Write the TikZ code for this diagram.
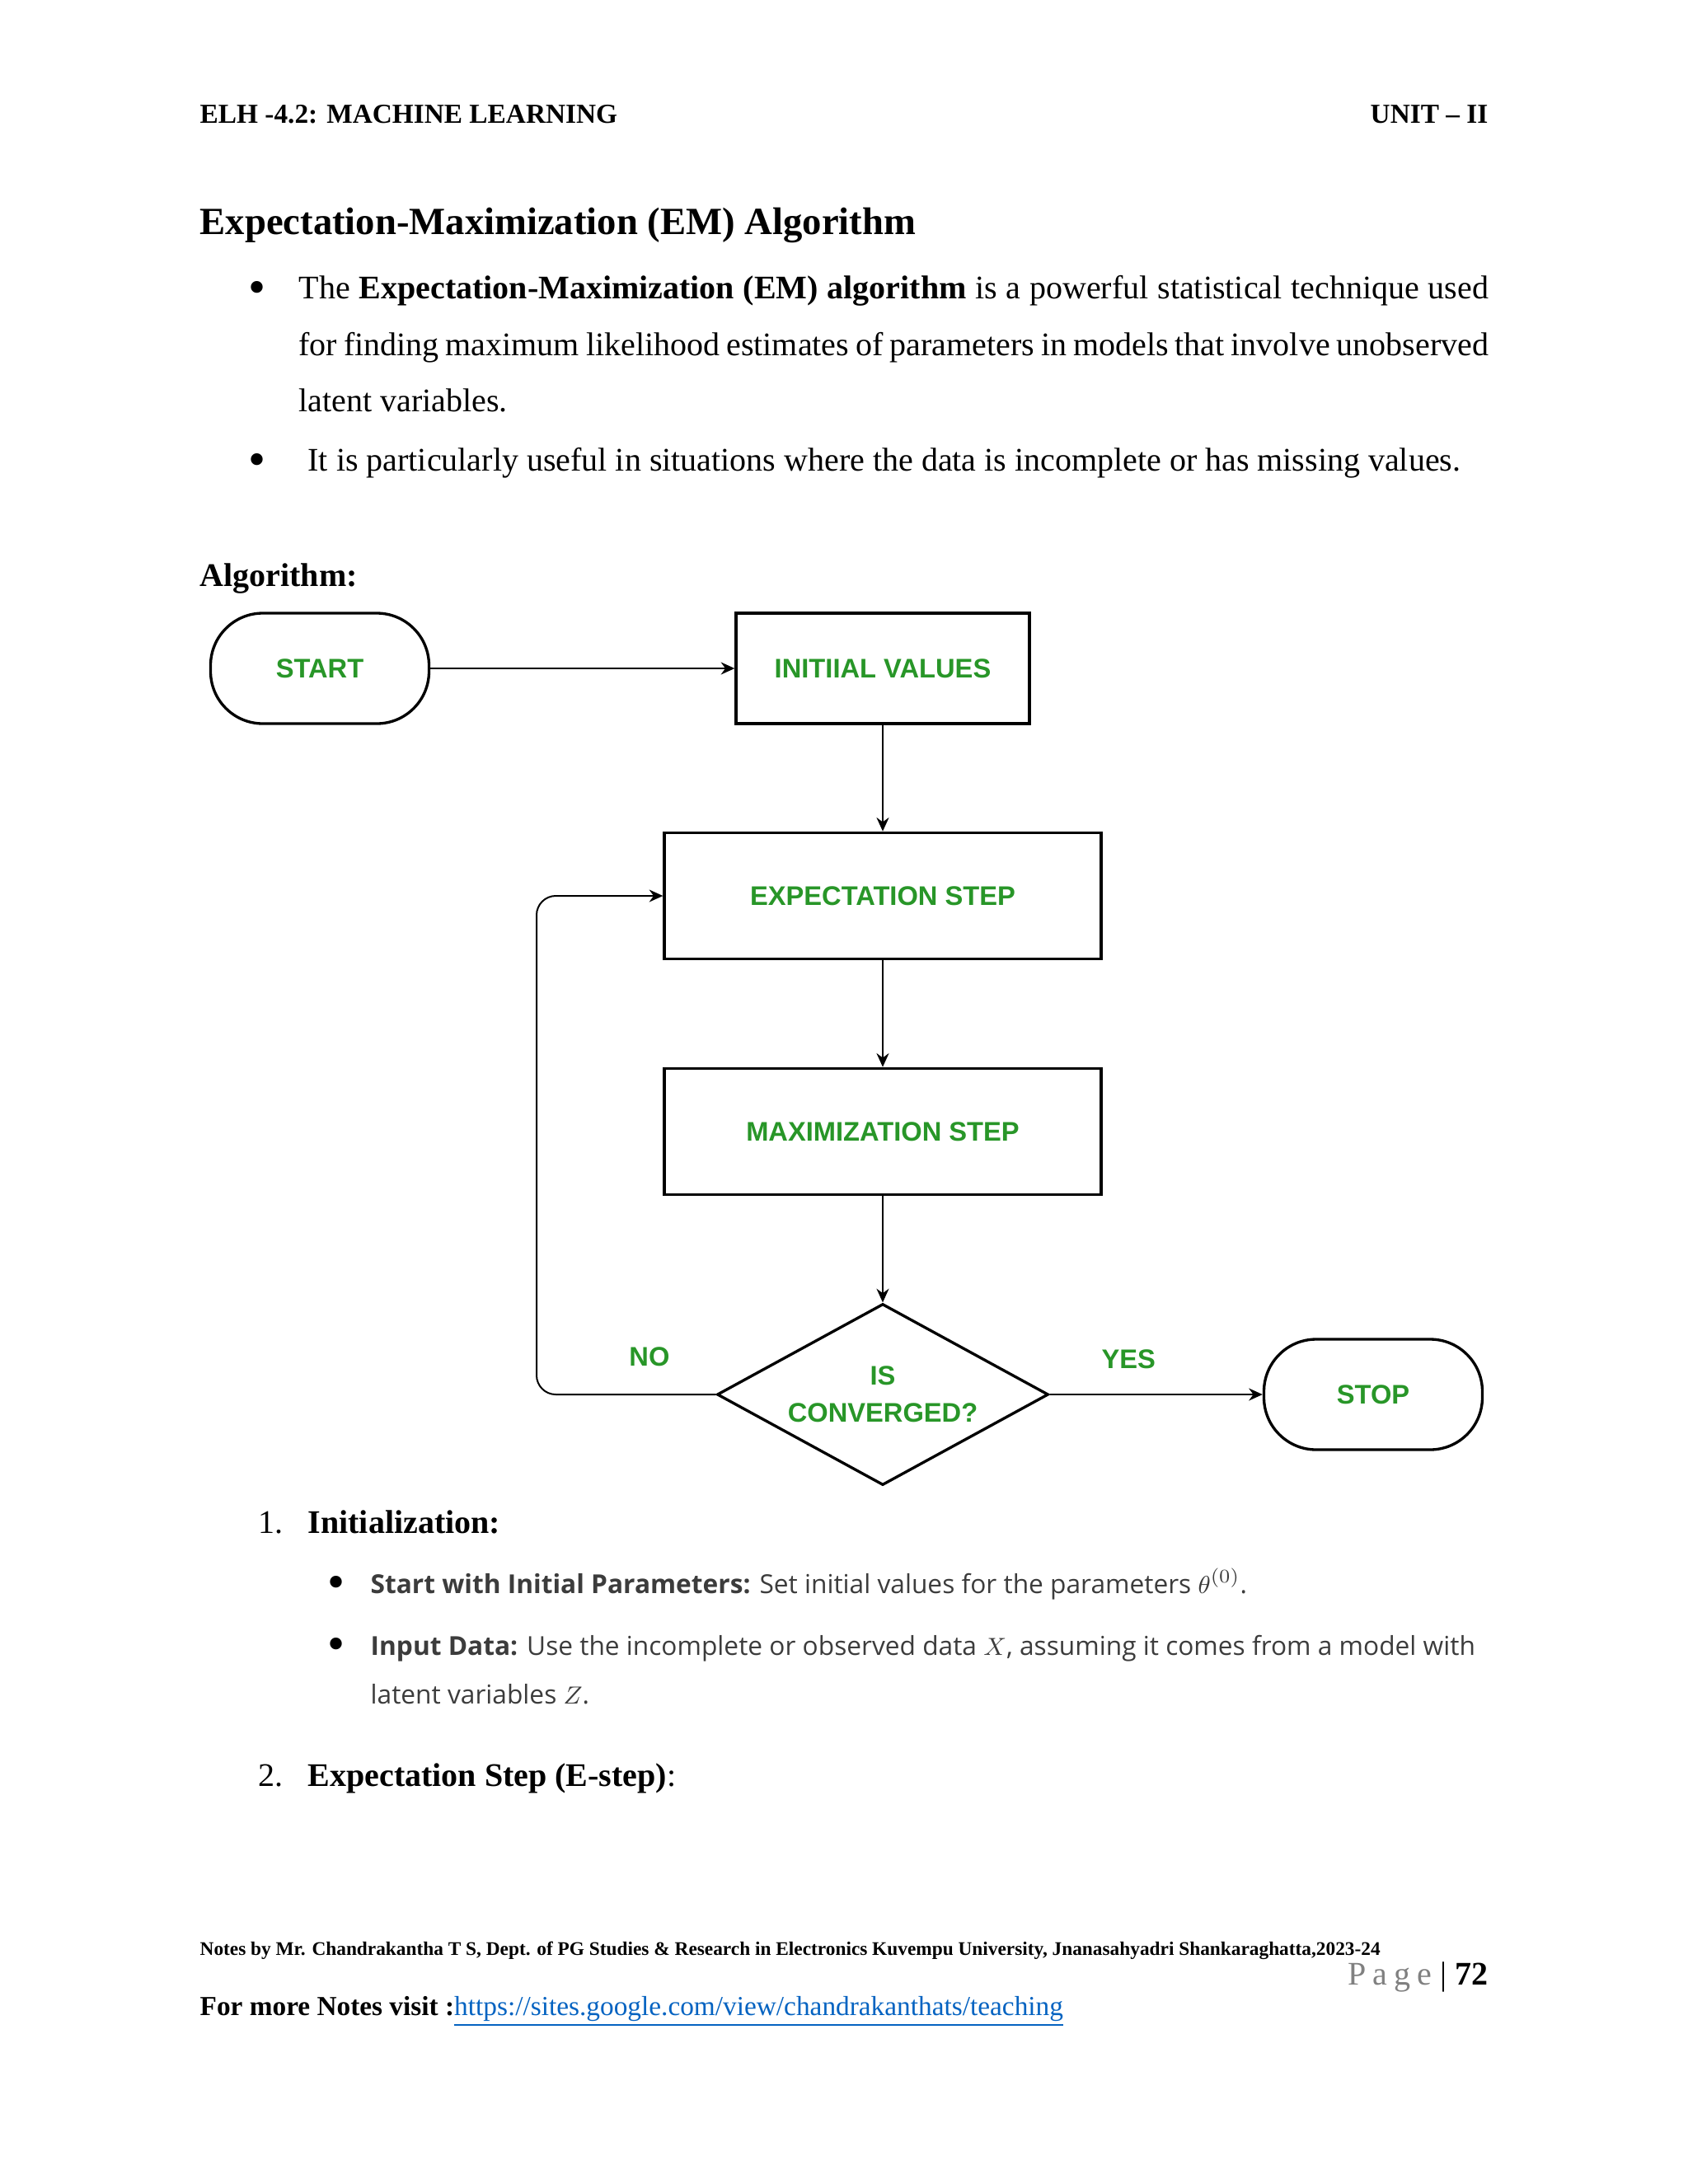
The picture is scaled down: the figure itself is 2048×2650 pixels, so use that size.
\documentclass[tikz,border=0pt]{standalone}
\usepackage{fontspec}
\setmainfont{Liberation Serif}
\newfontfamily\flowfont{Liberation Sans}
\newfontfamily\notefont{Open Sans}
\usepackage{tikz}
\usetikzlibrary{positioning,calc,arrows.meta,shapes.geometric}
\usepackage{xcolor}
\definecolor{flowgreen}{RGB}{40,150,40}
\definecolor{linkblue}{RGB}{5,99,193}
\definecolor{notegray}{RGB}{60,60,60}
\definecolor{pagegray}{RGB}{128,128,128}
\newcommand{\bigdot}{\raisebox{-2pt}{\scalebox{1.5}{\textbullet}}}

\tikzset{
  flowbox/.style={draw,line width=1pt,minimum width=159pt,minimum height=46pt,
    inner sep=0pt,text=flowgreen,
    font=\flowfont\fontsize{9.8}{11.4}\selectfont\bfseries},
  termbox/.style={flowbox,rounded corners=19pt,minimum width=79.5pt,minimum height=40.2pt},
  decbox/.style={flowbox,diamond,aspect=1.83,minimum width=120.6pt,
    minimum height=66pt,align=center},
  flowline/.style={line width=0.6pt,-{Stealth[length=5pt,width=4.5pt]}},
  lbl/.style={text=flowgreen,font=\flowfont\fontsize{9.8}{11.4}\selectfont\bfseries,inner sep=0pt},
  txt/.style={anchor=base west,inner sep=0pt,font=\fontsize{12}{14}\selectfont},
  note/.style={anchor=base west,inner sep=0pt,text=notegray,
    font=\notefont\fontsize{9.5}{11}\selectfont},
}

\begin{document}
\begin{tikzpicture}[x=0.3pt,y=-0.3pt]
  \useasboundingbox[fill=white] (0,0) rectangle (2048,2650);
  % page head
  \node[txt,font=\fontsize{10}{12}\selectfont\bfseries] (headl) at (242,149) {ELH -4.2: MACHINE LEARNING};
  \node[txt,anchor=base east,font=\fontsize{10}{12}\selectfont\bfseries] (headr) at (1806,149) {UNIT – II};
  \node[txt,font=\fontsize{14}{17}\selectfont\bfseries] (title) at (242,284) {Expectation-Maximization (EM) Algorithm};
  % intro bullets
  \foreach \y in {362,571}
    \node[txt] (dot\y) at (301,\y) {\bigdot};
  \node[txt] (introa) at (362,362) {\makebox[433pt][s]{The \textbf{Expectation-Maximization (EM) algorithm} is a powerful statistical technique used}};
  \node[txt] (introb) at (362,431) {\makebox[433pt][s]{for finding maximum likelihood estimates of parameters in models that involve unobserved}};
  \node[txt] (introc) at (362,499) {latent variables.};
  \node[txt] (introd) at (373,571) {It is particularly useful in situations where the data is incomplete or has missing values.};
  \node[txt,font=\fontsize{12}{14}\selectfont\bfseries] (algo) at (242,711) {Algorithm:};

  % flow chart
  \node[termbox] (start) at (388,811) {START};
  \node[flowbox,minimum width=106.8pt,minimum height=40.2pt] (init) at (1071,811) {INITIIAL VALUES};
  \node[flowbox] (estep) at (1071,1087) {EXPECTATION STEP};
  \node[flowbox] (mstep) at (1071,1373) {MAXIMIZATION STEP};
  \node[decbox] (conv) at (1071,1692) {IS\\[2pt]CONVERGED?};
  \node[termbox] (stop) at (1666,1692) {STOP};
  \coordinate (loopbend) at (651,1692);

  \draw[flowline] (start) -- (init);
  \draw[flowline] (init) -- (estep);
  \draw[flowline] (estep) -- (mstep);
  \draw[flowline] (mstep) -- (conv);
  \draw[flowline] (conv) -- node[lbl,pos=0.37,above=9pt] (yes) {YES} (stop);
  \draw[flowline,rounded corners=7pt] (conv.west) -- node[lbl,pos=0.37,above=10pt] (no) {NO} (loopbend) |- (estep.west);

  % steps
  \node[txt] (numa) at (313,1860) {1.};
  \node[txt,font=\fontsize{12}{14}\selectfont\bfseries] (stepa) at (373,1860) {Initialization:};
  \foreach \y in {1933,2008}
    \node[txt] (sub\y) at (397,\y) {\bigdot};
  \node[note] (init1) at (449,1933) {\textbf{Start with Initial Parameters:} Set initial values for the parameters $\theta^{(0)}$.};
  \node[note] (init2) at (449,2008) {\textbf{Input Data:} Use the incomplete or observed data $X$, assuming it comes from a model with};
  \node[note] (init3) at (449,2067) {latent variables $Z$.};
  \node[txt] (numb) at (313,2167) {2.};
  \node[txt] (stepb) at (373,2167) {\textbf{Expectation Step (E-step)}:};

  % page foot
  \node[txt,font=\fontsize{7}{9}\selectfont\bfseries] (foota) at (242,2372) {Notes by Mr. Chandrakantha T S, Dept. of PG Studies \& Research in Electronics Kuvempu University, Jnanasahyadri Shankaraghatta,2023-24};
  \node[txt,anchor=base east] (page) at (1806,2408) {\textcolor{pagegray}{P\hspace{2.4pt}a\hspace{2.4pt}g\hspace{2.4pt}e} | \textbf{72}};
  \node[txt,font=\fontsize{10}{12}\selectfont] (footb) at (242,2445) {\textbf{For more Notes visit :}\textcolor{linkblue}{\underline{https://sites.google.com/view/chandrakanthats/teaching}}};
\end{tikzpicture}
\end{document}
